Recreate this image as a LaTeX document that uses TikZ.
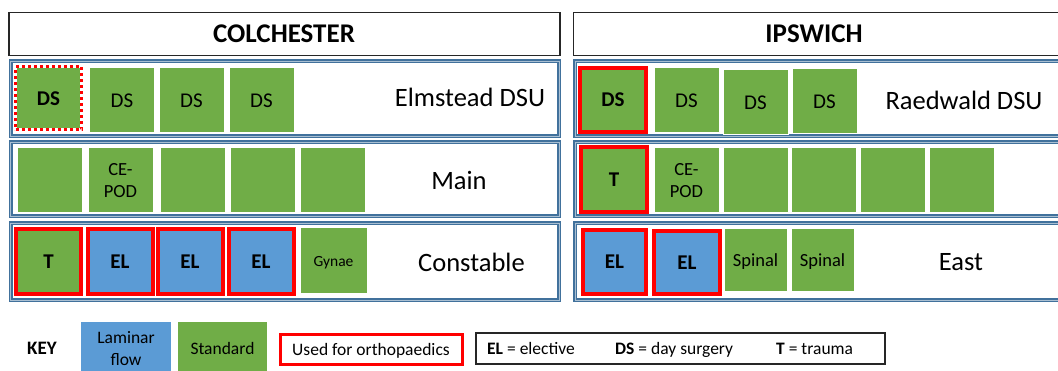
\documentclass[tikz,border=0pt]{standalone}
\usepackage{fontspec}
\setmainfont{Carlito}
\definecolor{stdgreen}{HTML}{70AD47}
\definecolor{lamblue}{HTML}{5B9BD5}
\definecolor{frameblue}{HTML}{41719C}
\definecolor{orthored}{HTML}{FF0000}
\tikzset{
  sq/.style={rectangle, inner sep=0pt, minimum width=65pt, minimum height=65pt, fill=stdgreen, draw=white, line width=1pt, align=center, font=\fontsize{21}{24}\selectfont},
  lam/.style={fill=lamblue},
  ortho/.style={draw=orthored, line width=4pt},
  bold/.style={font=\fontsize{21}{24}\selectfont\bfseries},
  dotbox/.style={draw=white, line width=3pt, postaction={draw=orthored, dash pattern=on 3pt off 3pt}},
  frame/.style={draw=frameblue, line width=1.7pt, double=frameblue!45!white, double distance=0.6pt},
  header/.style={draw=black!85, line width=1.2pt},
  rowlabel/.style={font=\fontsize{26.5}{30}\selectfont, inner sep=0pt},
  keytext/.style={font=\fontsize{17.5}{21}\selectfont, inner sep=0pt},
}
\begin{document}
\begin{tikzpicture}[x=1pt, y=-1pt]
\useasboundingbox (0,0) rectangle (1058,371);
\clip (0,0) rectangle (1058,371);
% headers
\draw[header] (9,12.5) rectangle (560,55.5);
\draw[header] (573.5,12.5) rectangle (1065,55.5);
\node[font=\fontsize{27}{30}\selectfont\bfseries] (colch) at (284,34) {COLCHESTER};
\node[font=\fontsize{27}{30}\selectfont\bfseries] (ipsw) at (814,34) {IPSWICH};
% frames
\draw[frame] (10.5,61) rectangle (559,136.5);
\draw[frame] (10.5,142) rectangle (559,216);
\draw[frame] (10.5,223) rectangle (559,300.5);
\draw[frame] (575,61) rectangle (1065,136.5);
\draw[frame] (575,142) rectangle (1065,216);
\draw[frame] (575,223) rectangle (1065,300.5);
% Colchester row 1
\node[sq, dotbox, bold, minimum width=66pt, minimum height=63pt] (c1a) at (48.5,98.5) {DS};
\node[sq] (c1b) at (122,100.5) {DS};
\node[sq] (c1c) at (191.5,100.5) {DS};
\node[sq] (c1d) at (261.5,100.5) {DS};
\node[rowlabel] (lc1) at (470,97) {Elmstead DSU};
% Colchester row 2
\node[sq] (c2a) at (49.5,180.5) {};
\node[sq, font=\fontsize{18.5}{22.5}\selectfont] (c2b) at (120.5,180.5) {CE-\\POD};
\node[sq] (c2c) at (192.5,180) {};
\node[sq] (c2d) at (262.5,180) {};
\node[sq] (c2e) at (333,180.5) {};
\node[rowlabel] (lc2) at (459,180) {Main};
% Colchester row 3
\node[sq, ortho, bold] (c3a) at (48.5,261.5) {T};
\node[sq, lam, ortho, bold] (c3b) at (120,261.5) {EL};
\node[sq, lam, ortho, bold] (c3c) at (190,261.5) {EL};
\node[sq, lam, ortho, bold] (c3d) at (261,261.5) {EL};
\node[sq, minimum width=67pt, minimum height=66pt, text depth=0pt, font=\fontsize{15.5}{18}\selectfont] (c3e) at (333.5,261) {Gynae};
\node[rowlabel] (lc3) at (471.5,262) {Constable};
% Ipswich row 1
\node[sq, ortho, bold, minimum width=66pt, minimum height=64pt] (i1a) at (613,100) {DS};
\node[sq] (i1b) at (686.5,100.5) {DS};
\node[sq] (i1c) at (755.5,102.5) {DS};
\node[sq] (i1d) at (824.5,101.5) {DS};
\node[rowlabel] (li1) at (964,100) {Raedwald DSU};
% Ipswich row 2
\node[sq, ortho, bold, minimum width=66pt, minimum height=65pt] (i2a) at (614,179.5) {T};
\node[sq, font=\fontsize{18.5}{22.5}\selectfont] (i2b) at (686.5,180.5) {CE-\\POD};
\node[sq] (i2c) at (755.5,180.5) {};
\node[sq] (i2d) at (824,180.5) {};
\node[sq] (i2e) at (892.5,180.5) {};
\node[sq] (i2f) at (961.5,180) {};
% Ipswich row 3
\node[sq, lam, ortho, bold, minimum width=63pt, minimum height=64pt] (i3a) at (614.5,262) {EL};
\node[sq, lam, ortho, bold, minimum width=66pt, minimum height=63pt] (i3b) at (687,262.5) {EL};
\node[sq, minimum width=63pt, minimum height=63pt, text depth=0pt, font=\fontsize{18.5}{22}\selectfont] (i3c) at (755.5,260.5) {Spinal};
\node[sq, minimum width=63pt, minimum height=63pt, text depth=0pt, font=\fontsize{18.5}{22}\selectfont] (i3d) at (822.5,260.5) {Spinal};
\node[rowlabel] (li3) at (961,262) {East};
% Key
\node[font=\fontsize{19}{22}\selectfont\bfseries, inner sep=0pt] (key) at (42,348) {KEY};
\node[rectangle, fill=lamblue, minimum width=90pt, minimum height=53pt, inner sep=0pt, align=center, font=\fontsize{17.5}{22}\selectfont] (klam) at (126,348.5) {Laminar\\flow};
\node[rectangle, fill=stdgreen, minimum width=89pt, minimum height=53pt, inner sep=0pt, text depth=0pt, font=\fontsize{17.5}{21}\selectfont] (kstd) at (222.5,348.5) {Standard};
\node[rectangle, draw=orthored, line width=3pt, fill=white, minimum width=182pt, minimum height=30pt, inner sep=0pt, text depth=0pt, font=\fontsize{17.5}{21}\selectfont] (kortho) at (371,349.5) {Used for orthopaedics};
\node[rectangle, draw=black!85, line width=1.2pt, minimum width=409pt, minimum height=31pt, inner sep=0pt] (kabbr) at (680.5,348.5) {};
\node[keytext, anchor=base west] (kel) at (487,355) {\textbf{EL} = elective};
\node[keytext, anchor=base west] (kds) at (615,355) {\textbf{DS} = day surgery};
\node[keytext, anchor=base west] (kt) at (776,355) {\textbf{T} = trauma};
\end{tikzpicture}
\end{document}
